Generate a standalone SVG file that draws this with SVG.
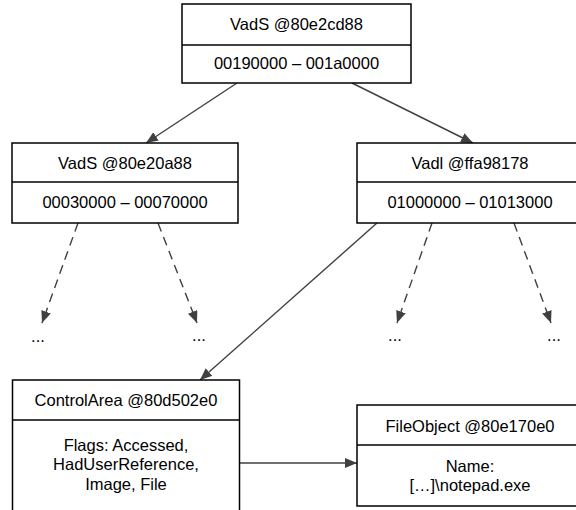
<svg xmlns="http://www.w3.org/2000/svg" width="576" height="510" viewBox="0 0 576 510">
  <style>
    .box { fill: #ffffff; stroke: #000000; stroke-width: 1.5; }
    .sep { stroke: #000000; stroke-width: 1.5; }
    .lbl { font-family: "Liberation Sans", Arial, sans-serif; font-size: 16.5px; fill: #000000; text-anchor: middle; }
    .edge { stroke: #404040; stroke-width: 1.4; fill: none; marker-end: url(#arrow); }
    .dash { stroke-dasharray: 9 6; }
  </style>
  <defs>
    <marker id="arrow" viewBox="0 0 12 10" refX="12" refY="5" markerWidth="12" markerHeight="10" markerUnits="userSpaceOnUse" orient="auto">
      <path d="M0,0 L12,5 L0,10 Z" fill="#404040"/>
    </marker>
  </defs>
  <rect width="576" height="510" fill="#ffffff"/>

  <!-- connectors -->
  <g id="connectors">
    <line class="edge" x1="237" y1="83" x2="146" y2="143"/>
    <line class="edge" x1="352" y1="83" x2="473" y2="143"/>
    <line class="edge dash" x1="78" y1="223" x2="42" y2="323"/>
    <line class="edge dash" x1="158" y1="223" x2="197" y2="323"/>
    <line class="edge dash" x1="432" y1="223" x2="397" y2="323"/>
    <line class="edge dash" x1="514" y1="223" x2="551" y2="323"/>
    <line class="edge" x1="377" y1="223" x2="200" y2="380"/>
    <line class="edge" x1="239" y1="463" x2="357" y2="463"/>
  </g>

  <!-- root VAD node -->
  <g id="vad-root">
    <rect class="box" x="182" y="4" width="229" height="79"/>
    <line class="sep" x1="182" y1="45" x2="411" y2="45"/>
    <text class="lbl" x="296.5" y="30">VadS @80e2cd88</text>
    <text class="lbl" x="296.5" y="69">00190000 – 001a0000</text>
  </g>

  <!-- left child -->
  <g id="vad-left">
    <rect class="box" x="12" y="143" width="226" height="80"/>
    <line class="sep" x1="12" y1="182" x2="238" y2="182"/>
    <text class="lbl" x="125" y="169">VadS @80e20a88</text>
    <text class="lbl" x="125" y="208">00030000 – 00070000</text>
  </g>

  <!-- right child -->
  <g id="vad-right">
    <rect class="box" x="357" y="143" width="226" height="80"/>
    <line class="sep" x1="357" y1="182" x2="583" y2="182"/>
    <text class="lbl" x="470" y="169">Vadl @ffa98178</text>
    <text class="lbl" x="470" y="208">01000000 – 01013000</text>
  </g>

  <!-- elided subtrees -->
  <g id="more">
    <text class="lbl" x="38" y="342">...</text>
    <text class="lbl" x="199" y="341">...</text>
    <text class="lbl" x="395" y="341">...</text>
    <text class="lbl" x="554" y="341">...</text>
  </g>

  <!-- control area -->
  <g id="control-area">
    <rect class="box" x="12.5" y="380" width="227" height="140"/>
    <line class="sep" x1="12.5" y1="420" x2="239.5" y2="420"/>
    <text class="lbl" x="126" y="406">ControlArea @80d502e0</text>
    <text class="lbl" x="126" y="451">Flags: Accessed,</text>
    <text class="lbl" x="126" y="470">HadUserReference,</text>
    <text class="lbl" x="126" y="490">Image, File</text>
  </g>

  <!-- file object -->
  <g id="file-object">
    <rect class="box" x="357" y="405" width="226" height="101"/>
    <line class="sep" x1="357" y1="445" x2="583" y2="445"/>
    <text class="lbl" x="470" y="432">FileObject @80e170e0</text>
    <text class="lbl" x="470" y="472">Name:</text>
    <text class="lbl" x="470" y="491">[…]\notepad.exe</text>
  </g>
</svg>
